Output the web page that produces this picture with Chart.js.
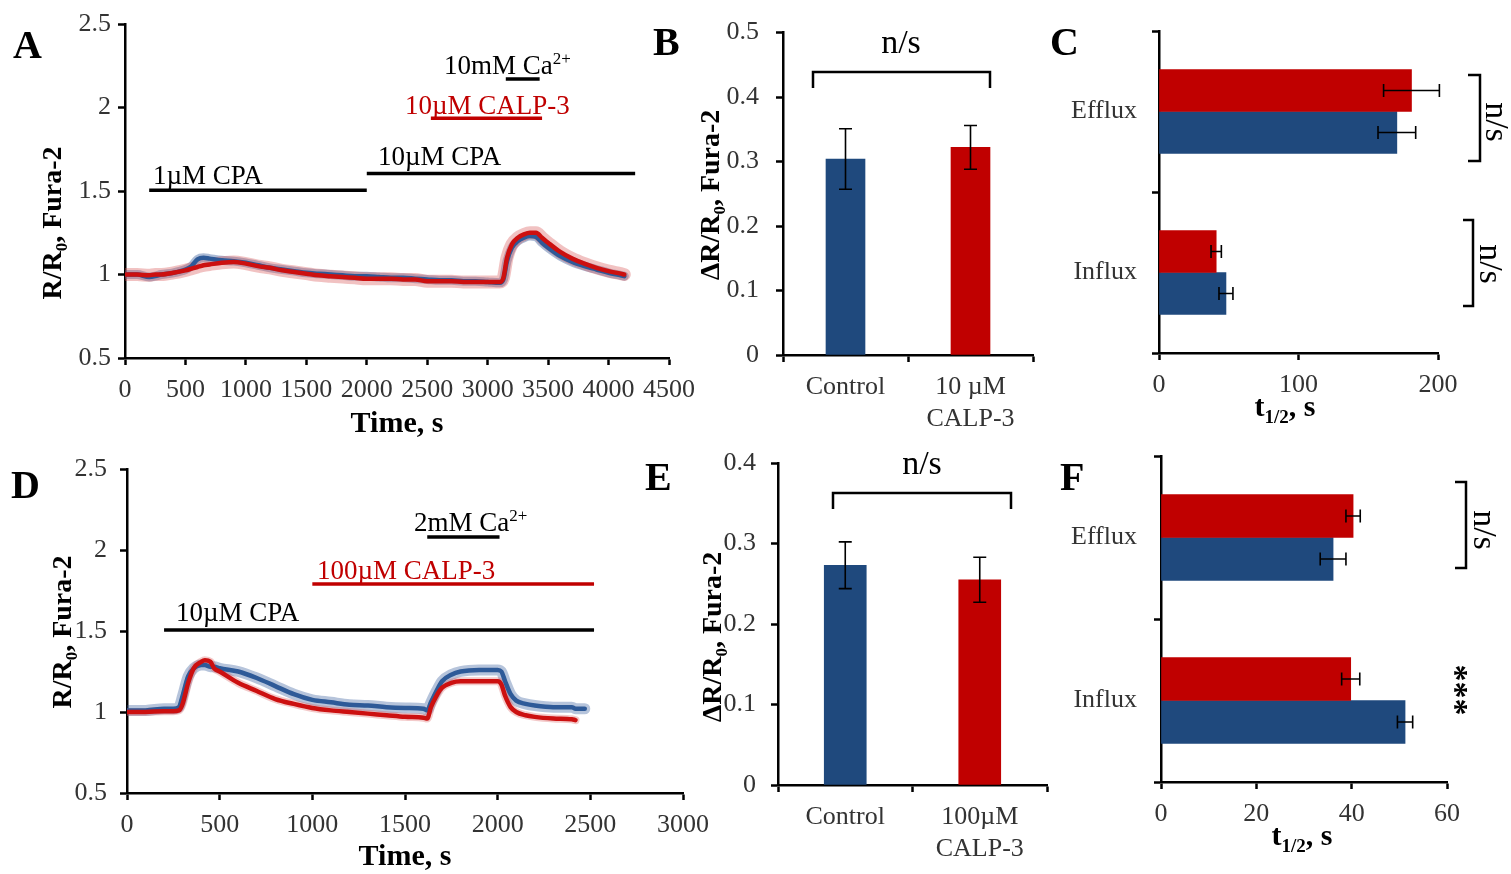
<!DOCTYPE html>
<html lang="en">
<head>
<meta charset="UTF-8">
<title>CALP-3 and store-operated Ca2+ entry, Fura-2</title>
<style>
  body { margin: 0; background: #fff; }
  .wrap { position: relative; width: 1511px; height: 874px; }
  .wrap canvas { position: absolute; left: 0; top: 0; }
</style>
</head>
<body>
<div class="wrap">
  <canvas id="chartA" width="1511" height="874"></canvas>
  <canvas id="chartB" width="1511" height="874"></canvas>
  <canvas id="chartC" width="1511" height="874"></canvas>
  <canvas id="chartD" width="1511" height="874"></canvas>
  <canvas id="chartE" width="1511" height="874"></canvas>
  <canvas id="chartF" width="1511" height="874"></canvas>
</div>
<script src="https://cdn.jsdelivr.net/npm/chart.js@4.4.1/dist/chart.umd.min.js"></script>
<script>
// ---- A: 1 uM -> 10 uM CPA, 10 uM CALP-3, 10 mM Ca2+ (R/R0) ----
const timeA = [0, 100, 200, 250, 300, 400, 500, 550, 600, 650, 700, 800, 900, 1000, 1100, 1200, 1300, 1400, 1500, 1600,
  1700, 1800, 1900, 2000, 2100, 2200, 2300, 2400, 2500, 2600, 2700, 2800, 2900, 3000, 3100, 3130, 3160, 3200, 3250, 3300,
  3350, 3400, 3450, 3500, 3600, 3700, 3800, 3900, 4000, 4100, 4130];
const ctrlA = [1.00, 1.00, 0.985, 0.99, 1.00, 1.01, 1.03, 1.05, 1.09, 1.10, 1.095, 1.085, 1.08, 1.07, 1.055, 1.04, 1.03, 1.02, 1.01, 1.005,
  1.00, 0.995, 0.99, 0.99, 0.985, 0.98, 0.98, 0.975, 0.97, 0.965, 0.965, 0.96, 0.96, 0.955, 0.95, 0.97, 1.08, 1.16, 1.20, 1.22,
  1.23, 1.225, 1.19, 1.16, 1.11, 1.075, 1.05, 1.03, 1.01, 0.995, 0.99];
const calpA = [1.00, 1.00, 0.995, 1.00, 1.00, 1.01, 1.025, 1.035, 1.045, 1.055, 1.06, 1.07, 1.075, 1.065, 1.05, 1.04, 1.025, 1.015, 1.005, 0.995,
  0.99, 0.985, 0.98, 0.975, 0.975, 0.975, 0.97, 0.97, 0.96, 0.96, 0.96, 0.955, 0.955, 0.955, 0.955, 0.98, 1.10, 1.18, 1.22, 1.24,
  1.25, 1.25, 1.22, 1.19, 1.135, 1.095, 1.065, 1.04, 1.02, 1.005, 1.00];
// application periods, s, and the level their bars sit at
const cpa1A = [200, 2000], cpa1ALevel = 1.505;
const cpa10A = [2000, 4220], cpa10ALevel = 1.605;
const calpBarA = [2530, 3450], calpBarALevel = 1.935;
const caBarA = [3150, 3430], caBarALevel = 2.17;

// ---- D: 10 uM CPA, 100 uM CALP-3, 2 mM Ca2+ ----
const timeD = [0, 100, 200, 250, 280, 300, 330, 360, 400, 420, 450, 470, 500, 600, 700, 800, 900, 1000, 1100, 1200, 1300,
  1400, 1500, 1600, 1620, 1640, 1670, 1700, 1750, 1800, 1900, 2000, 2020, 2040, 2070, 2100, 2150, 2200, 2300, 2400, 2420, 2470];
const ctrlD = [1.01, 1.01, 1.02, 1.02, 1.03, 1.10, 1.22, 1.27, 1.29, 1.29, 1.28, 1.28, 1.27, 1.25, 1.21, 1.16, 1.11, 1.075, 1.06, 1.045, 1.04,
  1.03, 1.025, 1.02, 1.01, 1.06, 1.13, 1.19, 1.23, 1.25, 1.26, 1.26, 1.25, 1.19, 1.11, 1.07, 1.05, 1.04, 1.03, 1.03, 1.02, 1.02];
const calpD = [1.00, 1.00, 1.005, 1.005, 1.01, 1.05, 1.18, 1.27, 1.31, 1.32, 1.31, 1.27, 1.25, 1.18, 1.13, 1.08, 1.05, 1.025, 1.01, 1.00, 0.99,
  0.98, 0.97, 0.965, 0.96, 1.03, 1.10, 1.15, 1.18, 1.19, 1.19, 1.19, 1.17, 1.10, 1.03, 1.00, 0.98, 0.97, 0.96, 0.955, 0.95, null];
const cpaD = [200, 2520], cpaDLevel = 1.506;
const calpBarD = [1000, 2520], calpBarDLevel = 1.79;
const caBarD = [1620, 2010], caBarDLevel = 2.08;

// ---- B / E: amplitude of Ca2+ entry, mean and SEM ----
const groupsB = ['Control', ['10 µM', 'CALP-3']];
const deltaB = [0.304, 0.322];
const semB = [0.047, 0.034];
const groupsE = ['Control', ['100µM', 'CALP-3']];
const deltaE = [0.273, 0.255];
const semE = [0.029, 0.028];

// ---- C / F: half-times, s ----
const phases = ['Efflux', 'Influx'];
const calpC = [181, 41];
const calpCErr = [20, 3.7];
const ctrlC = [170.5, 48];
const ctrlCErr = [13.5, 5];
const calpF = [40.3, 39.8];
const calpFErr = [1.5, 1.9];
const ctrlF = [36.1, 51.2];
const ctrlFErr = [2.7, 1.6];

const serif = '"Liberation Serif", "Times New Roman", serif';
const BLUE = '#1F497D', RED = '#C00000';
const TRACE_BLUE = '#2E5A98', TRACE_RED = '#CC1010';
const W = 1511, H = 874;
const Y_BOX = 100, X_BOX = 80; // room kept for tick labels (they are clipped to the scale box)

// text with sub/superscript pieces; y is the visual middle of the caps
function rich(ctx, segs, x, y, o) {
  const size = o.size;
  const weight = o.bold ? 'bold ' : '';
  const fontFor = k => weight + (k ? Math.round(size * 0.62) : size) + 'px ' + serif;
  let w = 0;
  segs.forEach(([t, k]) => { ctx.font = fontFor(k); w += ctx.measureText(t).width; });
  ctx.save();
  ctx.translate(x, y);
  if (o.rotate) ctx.rotate(o.rotate);
  let cx = o.align === 'center' ? -w / 2 : o.align === 'right' ? -w : 0;
  ctx.fillStyle = o.color || '#000';
  ctx.textBaseline = 'alphabetic';
  const base = size * 0.33;
  segs.forEach(([t, k]) => {
    ctx.font = fontFor(k);
    const dy = k === 'sub' ? size * 0.22 : k === 'sup' ? -size * 0.38 : 0;
    ctx.fillText(t, cx, base + dy);
    cx += ctx.measureText(t).width;
  });
  ctx.restore();
}

function polyline(ctx, pts, width) {
  ctx.save();
  ctx.strokeStyle = '#000';
  ctx.lineWidth = width || 2.5;
  ctx.beginPath();
  pts.forEach(([x, y], i) => i ? ctx.lineTo(x, y) : ctx.moveTo(x, y));
  ctx.stroke();
  ctx.restore();
}

function notes(draw) {
  return { id: 'notes', afterDraw(chart) { draw(chart.ctx, chart); } };
}

function errorBars(errs, cap) {
  return {
    id: 'errorBars',
    afterDatasetsDraw(chart) {
      const ctx = chart.ctx;
      const horiz = chart.options.indexAxis === 'y';
      const vScale = horiz ? chart.scales.x : chart.scales.y;
      const c = cap / 2;
      ctx.save();
      ctx.strokeStyle = '#000';
      ctx.lineWidth = 1.6;
      errs.forEach((e, di) => {
        const meta = chart.getDatasetMeta(di);
        meta.data.forEach((bar, i) => {
          const v = chart.data.datasets[di].data[i];
          const lo = vScale.getPixelForValue(v - e[i]);
          const hi = vScale.getPixelForValue(v + e[i]);
          ctx.beginPath();
          if (horiz) {
            ctx.moveTo(lo, bar.y); ctx.lineTo(hi, bar.y);
            ctx.moveTo(lo, bar.y - c); ctx.lineTo(lo, bar.y + c);
            ctx.moveTo(hi, bar.y - c); ctx.lineTo(hi, bar.y + c);
          } else {
            ctx.moveTo(bar.x, lo); ctx.lineTo(bar.x, hi);
            ctx.moveTo(bar.x - c, lo); ctx.lineTo(bar.x + c, lo);
            ctx.moveTo(bar.x - c, hi); ctx.lineTo(bar.x + c, hi);
          }
          ctx.stroke();
        });
      });
      ctx.restore();
    }
  };
}

const tickGrid = { display: true, drawOnChartArea: false, drawTicks: true, tickLength: 7, tickWidth: 2.5, tickColor: '#000' };

// axis look shared by every panel: black spine, outward ticks, no grid
function axis(type, pad, extra) {
  return Object.assign({
    type,
    border: { color: '#000', width: 2.5 },
    grid: Object.assign({}, tickGrid),
    ticks: { color: '#333', font: { family: serif, size: 26, lineHeight: 1.2 }, padding: pad },
  }, extra);
}

function numTicks(pad, step) {
  return { color: '#333', font: { family: serif, size: 26 }, padding: pad, stepSize: step, callback: v => String(+v.toFixed(2)) };
}

// plot area pinned to box {l, t, r, b} on the full-size canvas
function frame(box, xAxis, yAxis) {
  xAxis.afterFit = s => { s.height = X_BOX; };
  yAxis.afterFit = s => { s.width = Y_BOX; };
  return {
    responsive: false,
    animation: false,
    layout: { padding: { left: box.l - Y_BOX, right: W - box.r, top: box.t, bottom: H - box.b - X_BOX } },
    plugins: { legend: { display: false }, tooltip: { enabled: false } },
    scales: { x: xAxis, y: yAxis },
  };
}

function series(t, v) {
  return t.map((x, i) => ({ x, y: v[i] }));
}

function drugBar(span, level, color) {
  return {
    data: [{ x: span[0], y: level }, { x: span[1], y: level }],
    borderColor: color, borderWidth: 3.5, pointRadius: 0, order: 0,
  };
}

function trace(t, v, color, width, order) {
  return {
    data: series(t, v), borderColor: color, borderWidth: width, pointRadius: 0,
    cubicInterpolationMode: 'monotone', spanGaps: false, order,
    borderCapStyle: 'round', borderJoinStyle: 'round',
  };
}

// ===== A =====
new Chart(document.getElementById('chartA'), {
  type: 'line',
  data: {
    datasets: [
      drugBar(cpa1A, cpa1ALevel, '#000'),
      drugBar(cpa10A, cpa10ALevel, '#000'),
      drugBar(calpBarA, calpBarALevel, RED),
      drugBar(caBarA, caBarALevel, '#000'),
      trace(timeA, calpA, TRACE_RED, 4.5, 1),
      trace(timeA, ctrlA, TRACE_BLUE, 4.5, 2),
      trace(timeA, calpA, 'rgba(214, 80, 80, 0.35)', 13, 3),
      trace(timeA, ctrlA, 'rgba(47, 85, 151, 0.4)', 9, 4),
    ],
  },
  options: frame({ l: 125, t: 24, r: 669, b: 358 },
    axis('linear', 10, { min: 0, max: 4500, ticks: numTicks(10, 500) }),
    axis('linear', 7, { min: 0.5, max: 2.5, ticks: numTicks(7, 0.5) })),
  plugins: [notes(ctx => {
    rich(ctx, [['A', '']], 13, 45, { size: 40, bold: true });
    rich(ctx, [['1µM CPA', '']], 153, 175, { size: 27 });
    rich(ctx, [['10µM CPA', '']], 378, 156, { size: 27 });
    rich(ctx, [['10µM CALP-3', '']], 405, 105, { size: 27, color: RED });
    rich(ctx, [['10mM Ca', ''], ['2+', 'sup']], 444, 65, { size: 27 });
    rich(ctx, [['R/R', ''], ['0', 'sub'], [', Fura-2', '']], 52, 223, { size: 28, bold: true, align: 'center', rotate: -Math.PI / 2 });
    rich(ctx, [['Time, s', '']], 397, 422, { size: 30, bold: true, align: 'center' });
  })],
});

// ===== B =====
new Chart(document.getElementById('chartB'), {
  type: 'bar',
  data: {
    labels: groupsB,
    datasets: [{ data: deltaB, backgroundColor: [BLUE, RED], barThickness: 39 }],
  },
  options: frame({ l: 783, t: 31, r: 1033, b: 355 },
    axis('category', 10, { grid: Object.assign({ offset: true }, tickGrid) }),
    axis('linear', 17, { min: 0, max: 0.5, ticks: numTicks(17, 0.1) })),
  plugins: [errorBars([semB], 13), notes(ctx => {
    rich(ctx, [['B', '']], 653, 42, { size: 40, bold: true });
    polyline(ctx, [[813, 88], [813, 72], [990, 72], [990, 88]]);
    rich(ctx, [['n/s', '']], 901, 42, { size: 34, align: 'center' });
    rich(ctx, [['ΔR/R', ''], ['0', 'sub'], [', Fura-2', '']], 710, 195, { size: 28, bold: true, align: 'center', rotate: -Math.PI / 2 });
  })],
});

// ===== C =====
new Chart(document.getElementById('chartC'), {
  type: 'bar',
  data: {
    labels: phases,
    datasets: [
      { data: calpC, backgroundColor: RED, barThickness: 42 },
      { data: ctrlC, backgroundColor: BLUE, barThickness: 42 },
    ],
  },
  options: Object.assign(frame({ l: 1159, t: 31, r: 1438, b: 353 },
    axis('linear', 10, { min: 0, max: 200, ticks: numTicks(10, 100) }),
    axis('category', 15, { grid: Object.assign({ offset: true }, tickGrid) })), { indexAxis: 'y' }),
  plugins: [errorBars([calpCErr, ctrlCErr], 13), notes(ctx => {
    rich(ctx, [['C', '']], 1050, 42, { size: 40, bold: true });
    polyline(ctx, [[1468, 75], [1480, 75], [1480, 161], [1468, 161]]);
    rich(ctx, [['n/s', '']], 1497, 122, { size: 34, align: 'center', rotate: Math.PI / 2 });
    polyline(ctx, [[1463, 220], [1473, 220], [1473, 306], [1463, 306]]);
    rich(ctx, [['n/s', '']], 1491, 264, { size: 34, align: 'center', rotate: Math.PI / 2 });
    rich(ctx, [['t', ''], ['1/2', 'sub'], [', s', '']], 1285, 406, { size: 30, bold: true, align: 'center' });
  })],
});

// ===== D =====
new Chart(document.getElementById('chartD'), {
  type: 'line',
  data: {
    datasets: [
      drugBar(cpaD, cpaDLevel, '#000'),
      drugBar(calpBarD, calpBarDLevel, RED),
      drugBar(caBarD, caBarDLevel, '#000'),
      trace(timeD, calpD, TRACE_RED, 4.5, 1),
      trace(timeD, ctrlD, TRACE_BLUE, 4.5, 2),
      trace(timeD, calpD, 'rgba(214, 80, 80, 0.3)', 8, 3),
      trace(timeD, ctrlD, 'rgba(47, 85, 151, 0.35)', 11, 4),
    ],
  },
  options: frame({ l: 127, t: 469, r: 683, b: 793 },
    axis('linear', 10, { min: 0, max: 3000, ticks: numTicks(10, 500) }),
    axis('linear', 13, { min: 0.5, max: 2.5, ticks: numTicks(13, 0.5) })),
  plugins: [notes(ctx => {
    rich(ctx, [['D', '']], 11, 485, { size: 40, bold: true });
    rich(ctx, [['10µM CPA', '']], 176, 612, { size: 27 });
    rich(ctx, [['100µM CALP-3', '']], 317, 570, { size: 27, color: RED });
    rich(ctx, [['2mM Ca', ''], ['2+', 'sup']], 414, 522, { size: 27 });
    rich(ctx, [['R/R', ''], ['0', 'sub'], [', Fura-2', '']], 62, 632, { size: 28, bold: true, align: 'center', rotate: -Math.PI / 2 });
    rich(ctx, [['Time, s', '']], 405, 855, { size: 30, bold: true, align: 'center' });
  })],
});

// ===== E =====
new Chart(document.getElementById('chartE'), {
  type: 'bar',
  data: {
    labels: groupsE,
    datasets: [{ data: deltaE, backgroundColor: [BLUE, RED], barThickness: 42 }],
  },
  options: frame({ l: 778, t: 463, r: 1047, b: 785 },
    axis('category', 10, { grid: Object.assign({ offset: true }, tickGrid) }),
    axis('linear', 15, { min: 0, max: 0.4, ticks: numTicks(15, 0.1) })),
  plugins: [errorBars([semE], 13), notes(ctx => {
    rich(ctx, [['E', '']], 645, 477, { size: 40, bold: true });
    polyline(ctx, [[833, 509], [833, 493], [1011, 493], [1011, 509]]);
    rich(ctx, [['n/s', '']], 922, 463, { size: 34, align: 'center' });
    rich(ctx, [['ΔR/R', ''], ['0', 'sub'], [', Fura-2', '']], 712, 637, { size: 28, bold: true, align: 'center', rotate: -Math.PI / 2 });
  })],
});

// ===== F =====
new Chart(document.getElementById('chartF'), {
  type: 'bar',
  data: {
    labels: phases,
    datasets: [
      { data: calpF, backgroundColor: RED, barThickness: 43 },
      { data: ctrlF, backgroundColor: BLUE, barThickness: 43 },
    ],
  },
  options: Object.assign(frame({ l: 1161, t: 456, r: 1447, b: 782 },
    axis('linear', 10, { min: 0, max: 60, ticks: numTicks(10, 20) }),
    axis('category', 17, { grid: Object.assign({ offset: true }, tickGrid) })), { indexAxis: 'y' }),
  plugins: [errorBars([calpFErr, ctrlFErr], 13), notes(ctx => {
    rich(ctx, [['F', '']], 1060, 477, { size: 40, bold: true });
    polyline(ctx, [[1455, 482], [1466, 482], [1466, 568], [1455, 568]]);
    rich(ctx, [['n/s', '']], 1485, 530, { size: 34, align: 'center', rotate: Math.PI / 2 });
    rich(ctx, [['***', '']], 1456, 690, { size: 34, bold: true, align: 'center', rotate: Math.PI / 2 });
    rich(ctx, [['t', ''], ['1/2', 'sub'], [', s', '']], 1302, 835, { size: 30, bold: true, align: 'center' });
  })],
});
</script>
</body>
</html>
